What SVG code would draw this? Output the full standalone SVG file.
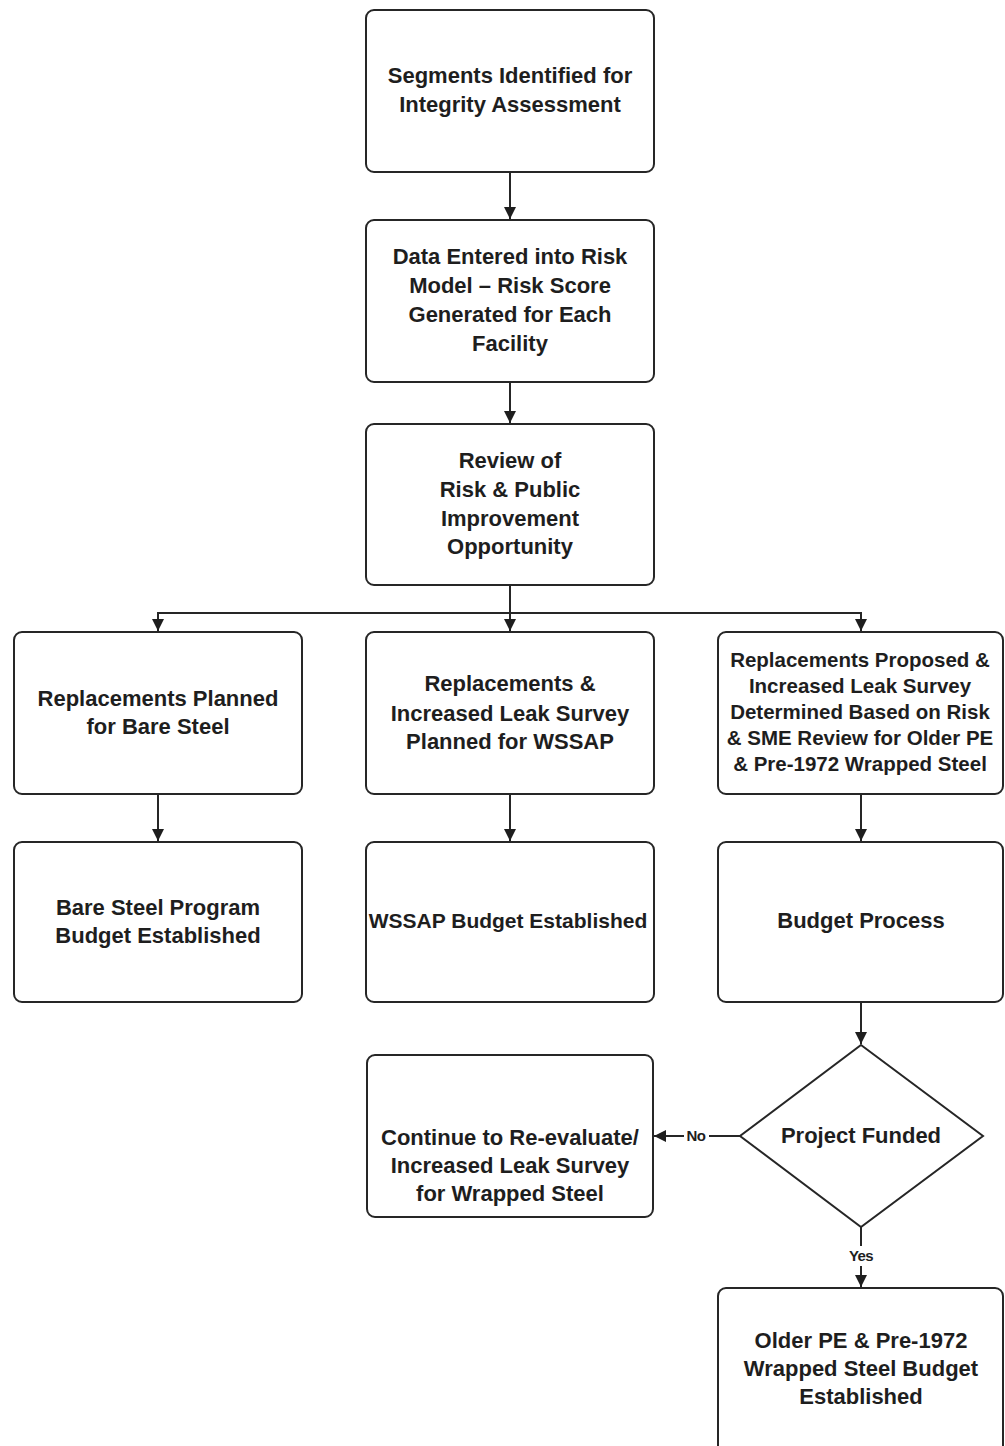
<svg xmlns="http://www.w3.org/2000/svg" width="1005" height="1446" viewBox="0 0 1005 1446">
<style>
.box{fill:#fff;stroke:#262626;stroke-width:2}
.t{font-family:"Liberation Sans",Arial,sans-serif;font-size:22px;font-weight:bold;fill:#1e1e1e;text-anchor:middle}
.s{font-size:20.5px}
.m{font-size:21px}
.lbl{font-family:"Liberation Sans",Arial,sans-serif;font-size:15px;font-weight:bold;fill:#1e1e1e;text-anchor:middle;letter-spacing:-0.6px}
.c{fill:none;stroke:#262626;stroke-width:2}
</style>
<defs>
<marker id="ah" viewBox="0 0 10 10" refX="10" refY="5" markerWidth="6" markerHeight="6" orient="auto" markerUnits="strokeWidth">
<path d="M0,0 L10,5 L0,10 z" fill="#1e1e1e"/>
</marker>
</defs>
<rect width="1005" height="1446" fill="#fff"/>
<g id="connectors">
<line class="c" x1="510" y1="172" x2="510" y2="219" marker-end="url(#ah)"/>
<line class="c" x1="510" y1="382" x2="510" y2="423" marker-end="url(#ah)"/>
<line class="c" x1="510" y1="585" x2="510" y2="613"/>
<line class="c" x1="158" y1="613" x2="861" y2="613"/>
<line class="c" x1="158" y1="612" x2="158" y2="631" marker-end="url(#ah)"/>
<line class="c" x1="510" y1="613" x2="510" y2="631" marker-end="url(#ah)"/>
<line class="c" x1="861" y1="612" x2="861" y2="631" marker-end="url(#ah)"/>
<line class="c" x1="158" y1="794" x2="158" y2="841" marker-end="url(#ah)"/>
<line class="c" x1="510" y1="794" x2="510" y2="841" marker-end="url(#ah)"/>
<line class="c" x1="861" y1="794" x2="861" y2="841" marker-end="url(#ah)"/>
<line class="c" x1="861" y1="1002" x2="861" y2="1044" marker-end="url(#ah)"/>
<line class="c" x1="740" y1="1136" x2="709" y2="1136"/>
<line class="c" x1="684" y1="1136" x2="654" y2="1136" marker-end="url(#ah)"/>
<text class="lbl" x="696" y="1141">No</text>
<line class="c" x1="861" y1="1227" x2="861" y2="1246"/>
<line class="c" x1="861" y1="1266" x2="861" y2="1287" marker-end="url(#ah)"/>
<text class="lbl" x="861" y="1261">Yes</text>
</g>
<g id="n1">
<rect class="box" x="366" y="10" width="288" height="162" rx="8"/>
<text class="t" x="510" y="83">Segments Identified for</text>
<text class="t" x="510" y="112">Integrity Assessment</text>
</g>
<g id="n2">
<rect class="box" x="366" y="220" width="288" height="162" rx="8"/>
<text class="t" x="510" y="264">Data Entered into Risk</text>
<text class="t" x="510" y="293">Model – Risk Score</text>
<text class="t" x="510" y="322">Generated for Each</text>
<text class="t" x="510" y="351">Facility</text>
</g>
<g id="n3">
<rect class="box" x="366" y="424" width="288" height="161" rx="8"/>
<text class="t" x="510" y="468">Review of</text>
<text class="t" x="510" y="497">Risk &amp; Public</text>
<text class="t" x="510" y="526">Improvement</text>
<text class="t" x="510" y="554">Opportunity</text>
</g>
<g id="n4">
<rect class="box" x="14" y="632" width="288" height="162" rx="8"/>
<text class="t" x="158" y="706">Replacements Planned</text>
<text class="t" x="158" y="734">for Bare Steel</text>
</g>
<g id="n5">
<rect class="box" x="366" y="632" width="288" height="162" rx="8"/>
<text class="t" x="510" y="691">Replacements &amp;</text>
<text class="t" x="510" y="721">Increased Leak Survey</text>
<text class="t" x="510" y="749">Planned for WSSAP</text>
</g>
<g id="n6">
<rect class="box" x="718" y="632" width="285" height="162" rx="8"/>
<text class="t s" x="860" y="667">Replacements Proposed &amp;</text>
<text class="t s" x="860" y="693">Increased Leak Survey</text>
<text class="t s" x="860" y="719">Determined Based on Risk</text>
<text class="t s" x="860" y="745">&amp; SME Review for Older PE</text>
<text class="t s" x="860" y="771">&amp; Pre-1972 Wrapped Steel</text>
</g>
<g id="n7">
<rect class="box" x="14" y="842" width="288" height="160" rx="8"/>
<text class="t" x="158" y="915">Bare Steel Program</text>
<text class="t" x="158" y="943">Budget Established</text>
</g>
<g id="n8">
<rect class="box" x="366" y="842" width="288" height="160" rx="8"/>
<text class="t m" x="508" y="928">WSSAP Budget Established</text>
</g>
<g id="n9">
<rect class="box" x="718" y="842" width="285" height="160" rx="8"/>
<text class="t" x="861" y="928">Budget Process</text>
</g>
<g id="n10">
<polygon class="box" points="861,1045 983,1136 861,1227 740,1136"/>
<text class="t" x="861" y="1143">Project Funded</text>
</g>
<g id="n11">
<rect class="box" x="367" y="1055" width="286" height="162" rx="8"/>
<text class="t" x="510" y="1145">Continue to Re-evaluate/</text>
<text class="t" x="510" y="1173">Increased Leak Survey</text>
<text class="t" x="510" y="1201">for Wrapped Steel</text>
</g>
<g id="n12">
<rect class="box" x="718" y="1288" width="285" height="180" rx="8"/>
<text class="t" x="861" y="1348">Older PE &amp; Pre-1972</text>
<text class="t" x="861" y="1376">Wrapped Steel Budget</text>
<text class="t" x="861" y="1404">Established</text>
</g>
</svg>
